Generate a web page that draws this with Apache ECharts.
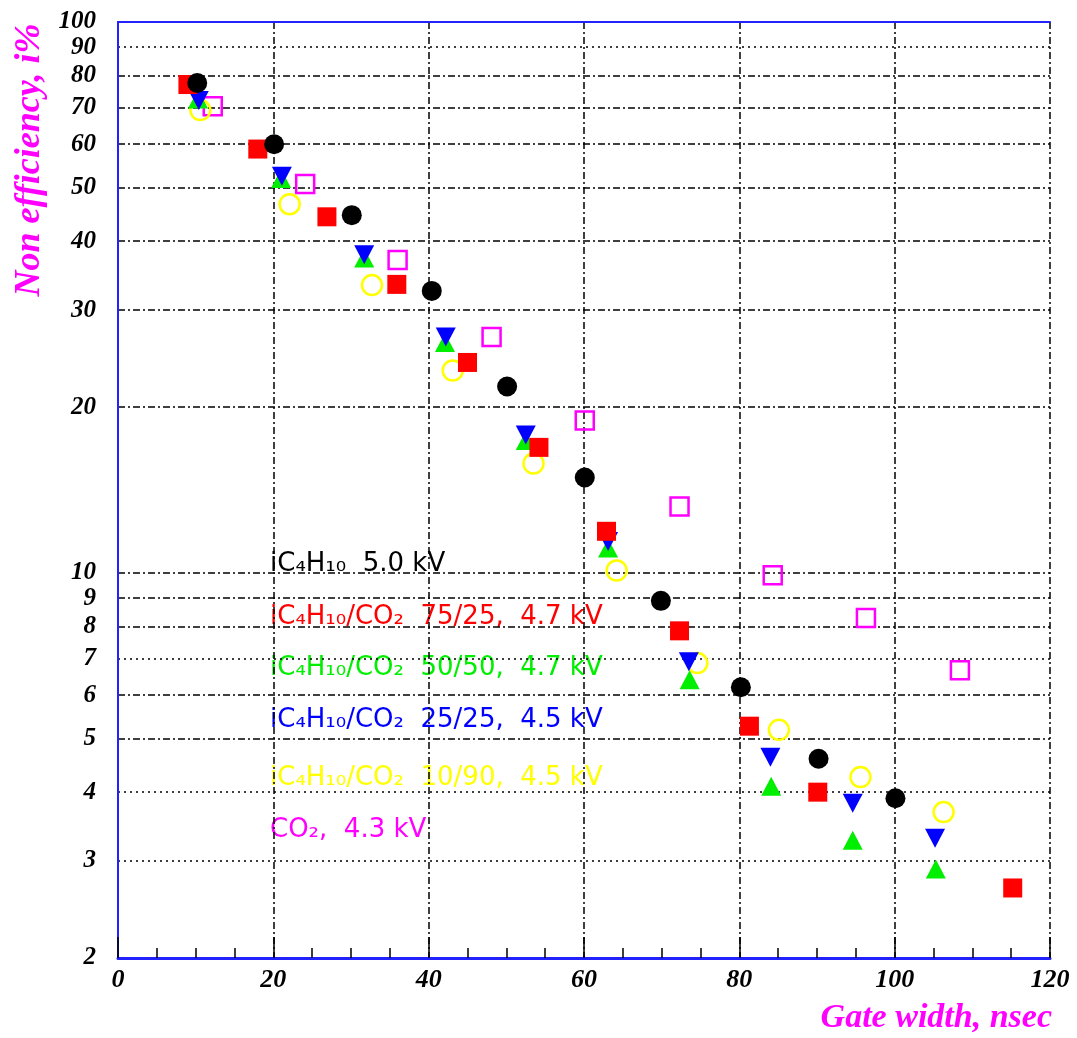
<!DOCTYPE html>
<html><head><meta charset="utf-8">
<script src="https://cdn.jsdelivr.net/npm/echarts@6/dist/echarts.min.js"></script>
<style>html,body{margin:0;padding:0;background:#fff}#c{width:1077px;height:1038px}</style>
</head><body><div id="c"></div>
<script>
// ---- data ----
const yDashedTicks = [2,5,6,8,9,10,20,30,40,50,60,70,80,100];
const yDottedTicks = [3,4,7,90];
const yLabelTicks = [2,3,4,5,6,7,8,9,10,20,30,40,50,60,70,80,90,100];

const xBlack = [10.2,20.1,30.1,40.4,50.1,60.1,69.9,80.2,90.2,100.1];
const yBlack = [77.5,60,44.6,32.5,21.8,14.9,8.9,6.2,4.6,3.9];

const xRed = [9.0,18.0,26.9,35.9,45.0,54.2,62.9,72.3,81.3,90.1,115.2];
const yRed = [77,58.8,44.3,33.4,24.1,16.9,11.9,7.85,5.27,4.0,2.68];

const xGreen = [10.3,21.0,31.7,42.1,52.5,63.1,73.6,84.1,94.6,105.3];
const yGreen = [72.5,52,37.3,26.2,17.4,11.1,6.4,4.1,3.27,2.9];

const xBlue = [10.4,21.1,31.7,42.2,52.5,63.1,73.5,84.0,94.6,105.2];
const yBlue = [72,52.5,37.8,26.8,17.8,11.4,6.9,4.63,3.82,3.3];

const xYellow = [10.6,22.1,32.7,43.1,53.5,64.2,74.6,85.1,95.6,106.3];
const yYellow = [69.2,46.7,33.3,23.3,15.8,10.1,6.86,5.19,4.26,3.68];

const xMagenta = [12.2,24.1,36.0,48.1,60.1,72.3,84.3,96.3,108.4];
const yMagenta = [70.3,50.8,37,26.8,18.9,13.2,9.9,8.28,6.66];

const legendTexts = [
  'iC\u2084H\u2081\u2080  5.0 kV',
  'iC\u2084H\u2081\u2080/CO\u2082  75/25,  4.7 kV',
  'iC\u2084H\u2081\u2080/CO\u2082  50/50,  4.7 kV',
  'iC\u2084H\u2081\u2080/CO\u2082  25/25,  4.5 kV',
  'iC\u2084H\u2081\u2080/CO\u2082  10/90,  4.5 kV',
  'CO\u2082,  4.3 kV'
];
const legendColors = ['#000000','#ff0000','#00ee00','#0000ff','#ffff00','#ff00ff'];

function pairs(xs, ys){ return xs.map((x,i)=>[x, ys[i]]); }

const serif = 'Liberation Serif';
const chart = echarts.init(document.getElementById('c'));

const legendTops = [566,619,670,722,780,832];
const graphics = legendTexts.map((t,i)=>({
  type:'text', left:270, top:legendTops[i]-15,
  style:{text:t, fill:legendColors[i], font:'26px "DejaVu Sans"'}
}));
graphics.push({
  type:'text', x:30, y:160, rotation:Math.PI/2,
  style:{text:'Non efficiency, i%', fill:'#ff00ff', font:'italic bold 36px "Liberation Serif"', align:'center', verticalAlign:'middle'}
});
graphics.push({
  type:'text', right:25, top:1001,
  style:{text:'Gate width, nsec', fill:'#ff00ff', font:'italic bold 34px "Liberation Serif"'}
});

const labelStyle = {fontFamily:serif, fontStyle:'italic', fontWeight:'bold', fontSize:25, color:'#000'};

chart.setOption({
  animation:false,
  backgroundColor:'#fff',
  grid:{left:118, right:27, top:22, bottom:80, containLabel:false},
  xAxis:[{
    type:'value', min:0, max:120, interval:20, position:'bottom',
    axisLine:{show:true, onZero:false, lineStyle:{color:'#2222ff', width:3}},
    axisTick:{show:true, inside:true, length:21, lineStyle:{color:'#000', width:1.5}},
    minorTick:{show:true, splitNumber:4, length:10, lineStyle:{color:'#000', width:1.5}},
    axisLabel:Object.assign({margin:9}, labelStyle, {fontSize:26}),
    splitLine:{show:true, lineStyle:{color:'#000', width:1.5, type:[7,3,2,3]}}
  },{
    type:'value', min:0, max:120, position:'top',
    axisLine:{show:true, onZero:false, lineStyle:{color:'#2222ff', width:2}},
    axisTick:{show:false}, axisLabel:{show:false}, splitLine:{show:false}
  }],
  yAxis:[{
    type:'log', logBase:10, min:2, max:100, position:'left',
    axisLine:{show:true, lineStyle:{color:'#4444ff', width:2, type:'dotted'}},
    axisTick:{show:false, customValues:yDashedTicks},
    axisLabel:Object.assign({margin:22, customValues:yLabelTicks, hideOverlap:false, showMaxLabel:true, showMinLabel:true, lineHeight:18}, labelStyle),
    splitLine:{show:true, lineStyle:{color:'#000', width:1.5, type:[7,3,2,3]}}
  },{
    type:'log', logBase:10, min:2, max:100, position:'right',
    axisLine:{show:true, lineStyle:{color:'#2222ff', width:2}},
    axisTick:{show:false, customValues:yDottedTicks},
    axisLabel:{show:false, customValues:yDottedTicks},
    splitLine:{show:true, lineStyle:{color:'#000', width:1.5, type:[2,4]}}
  }],
  graphic:graphics,
  series:[
    {type:'scatter', name:'CO2', data:pairs(xMagenta,yMagenta), symbol:'rect', symbolSize:18,
     itemStyle:{color:'rgba(0,0,0,0)', borderColor:'#ff00ff', borderWidth:2.5, opacity:1}},
    {type:'scatter', name:'10/90', data:pairs(xYellow,yYellow), symbol:'circle', symbolSize:20,
     itemStyle:{color:'rgba(0,0,0,0)', borderColor:'#ffff00', borderWidth:2.5, opacity:1}},
    {type:'scatter', name:'50/50', data:pairs(xGreen,yGreen), symbol:'triangle', symbolSize:[20,19],
     itemStyle:{color:'#00ee00', opacity:1}},
    {type:'scatter', name:'25/75', data:pairs(xBlue,yBlue), symbol:'triangle', symbolRotate:180, symbolSize:[20,19],
     itemStyle:{color:'#0000ff', opacity:1}},
    {type:'scatter', name:'75/25', data:pairs(xRed,yRed), symbol:'rect', symbolSize:19,
     itemStyle:{color:'#ff0000', opacity:1}},
    {type:'scatter', name:'iC4H10', data:pairs(xBlack,yBlack), symbol:'circle', symbolSize:20,
     itemStyle:{color:'#000000', opacity:1}}
  ]
});
</script></body></html>
